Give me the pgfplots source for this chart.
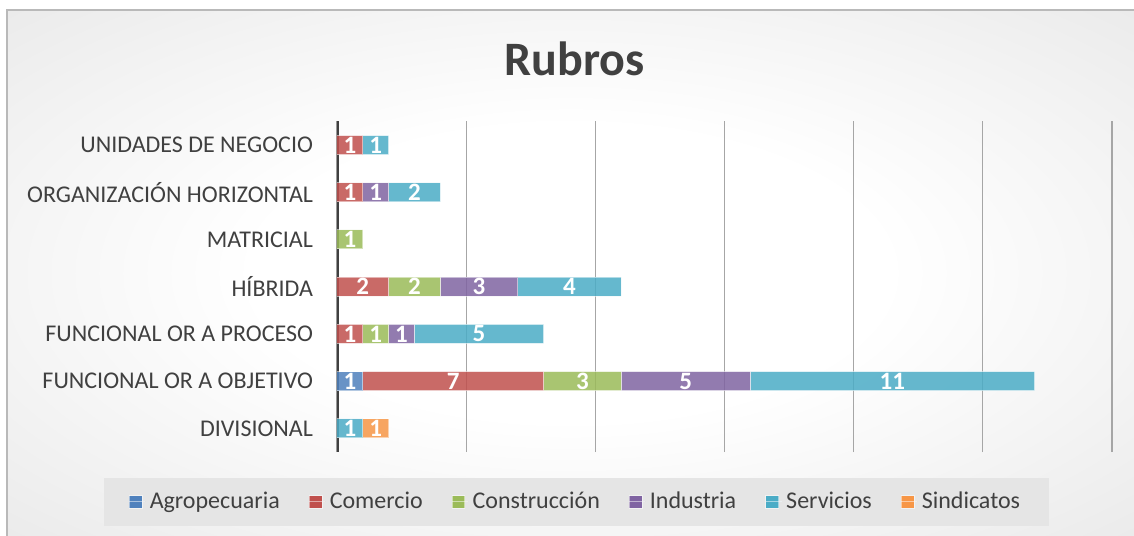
\documentclass[border=0pt]{standalone}
\usepackage{pgfplots}
\pgfplotsset{compat=1.18}
\usepackage{pgfplotstable}
\usepackage{fontspec}
\setmainfont{Carlito}

\definecolor{cAgro}{HTML}{4F81BD}
\definecolor{cCom}{HTML}{C0504D}
\definecolor{cCons}{HTML}{9BBB59}
\definecolor{cInd}{HTML}{8064A2}
\definecolor{cServ}{HTML}{4BACC6}
\definecolor{cSind}{HTML}{F79646}
\definecolor{txt}{HTML}{404040}

\pgfdeclareradialshading{chartbg}{\pgfpoint{0bp}{0bp}}{color(0bp)=(white); color(14bp)=(white); color(71bp)=(gray!42)}

% 0 = DIVISIONAL ... 6 = UNIDADES DE NEGOCIO
\pgfplotstableread{
idx Agro Com Cons Ind Serv Sind
0   0    0   0    0   1    1
1   1    7   3    5   11   0
2   0    1   1    1   5    0
3   0    2   2    3   4    0
4   0    0   1    0   0    0
5   0    1   0    1   2    0
6   0    1   0    0   1    0
}\rubros

\begin{document}
\begin{tikzpicture}
\useasboundingbox (-168.5bp,-42bp) rectangle (398.5bp,226bp);
\shade[shading=chartbg] (-165bp,-42bp) rectangle (398.5bp,221bp);
\draw[gray!55, line width=0.8bp] (-165bp,-42bp) -- (-165bp,221bp) -- (398.5bp,221bp);
\begin{axis}[
  at={(0,0)}, anchor=south west,
  scale only axis, width=387.5bp, height=165.3bp,
  xbar stacked, bar width=9.5bp,
  xmin=0, xmax=30, ymin=-0.5, ymax=6.5,
  xtick={0,5,...,30}, xticklabels={},
  xmajorgrids, major grid style={gray!70, line width=0.6bp},
  ytick={0,...,6},
  yticklabels={DIVISIONAL, FUNCIONAL OR A OBJETIVO, FUNCIONAL OR A PROCESO, HÍBRIDA, MATRICIAL, ORGANIZACIÓN HORIZONTAL, UNIDADES DE NEGOCIO},
  major tick length=0pt,
  axis x line*=bottom, axis y line*=left,
  x axis line style={draw=none}, y axis line style={draw=none},
  yticklabel style={font=\fontsize{12bp}{14bp}\selectfont, text=txt, xshift=-8.5bp},
  title={Rubros},
  title style={font=\fontsize{24bp}{28bp}\selectfont\bfseries, text=txt, at={(0.307,1.152)}, anchor=center},
  legend columns=6,
  legend style={at={(0.309,-0.151)}, anchor=center, draw=none, fill=gray!20,
    font=\fontsize{12bp}{14bp}\selectfont, text=txt, inner xsep=12.5bp, inner ysep=5bp,
    /tikz/every even column/.append style={column sep=12.5bp}},
  legend image code/.code={\fill[#1, fill opacity=1] (0bp,-3.2bp) rectangle (6.4bp,3.2bp); \path (0bp,0bp) -- (8bp,0bp);},
  /pgf/number format/assume math mode=true,
  point meta=explicit,
  nodes near coords={\pgfmathfloatifflags{\pgfplotspointmeta}{0}{}{\pgfmathprintnumber{\pgfplotspointmeta}}},
  every node near coord/.append style={anchor=center, text=white, text opacity=1, font=\fontsize{12.5bp}{14bp}\selectfont\bfseries},
  every axis plot/.append style={draw=white, line width=0.5bp, fill opacity=0.85, draw opacity=0.5},
]
\addplot[fill=cAgro] table[x=Agro, y=idx, meta=Agro] {\rubros};
\addplot[fill=cCom] table[x=Com, y=idx, meta=Com] {\rubros};
\addplot[fill=cCons] table[x=Cons, y=idx, meta=Cons] {\rubros};
\addplot[fill=cInd] table[x=Ind, y=idx, meta=Ind] {\rubros};
\addplot[fill=cServ] table[x=Serv, y=idx, meta=Serv] {\rubros};
\addplot[fill=cSind] table[x=Sind, y=idx, meta=Sind] {\rubros};
\legend{Agropecuaria, Comercio, Construcción, Industria, Servicios, Sindicatos}
\draw[black!75, line width=1.6bp] (rel axis cs:0,0) -- (rel axis cs:0,1);
\end{axis}
\end{tikzpicture}
\end{document}
